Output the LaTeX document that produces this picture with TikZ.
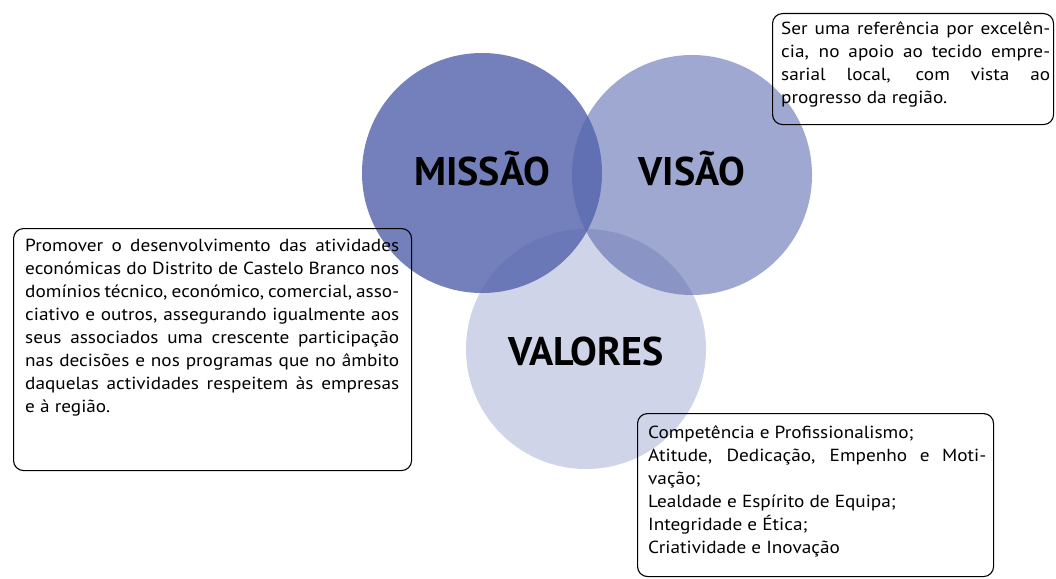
\documentclass[tikz,border=0pt]{standalone}
\usepackage{fontspec}
\setmainfont{PT Sans}
\newfontfamily\boxfont[FakeStretch=1.1]{PT Sans}
\definecolor{circbase}{RGB}{84,100,172}
\tolerance=10000
\hyphenpenalty=10000
\tikzset{
  circ/.style={fill=circbase, draw=none},
  lbl/.style={font=\fontsize{40}{42}\selectfont\bfseries, text=black, inner sep=0pt, anchor=base},
  boxframe/.style={draw=black, line width=1.1pt, rounded corners=10pt, anchor=north west, inner sep=0pt},
  txt/.style={anchor=north west, inner sep=0pt, align=justify, text=black,
    font=\boxfont\fontsize{17.5}{23}\selectfont}
}
\begin{document}
\begin{tikzpicture}[x=1pt,y=-1pt]
\useasboundingbox (0,0) rectangle (1056,578);
% circles
\fill[circ, opacity=0.82] (482,173) circle[radius=120pt];
\fill[circ, opacity=0.56] (692,175) circle[radius=120pt];
\fill[circ, opacity=0.28] (586,349) circle[radius=120pt];
% labels
\node[lbl] (missao) at (482,185) {MISSÃO};
\node[lbl] (visao) at (692,185) {VISÃO};
\node[lbl] (valores) at (586,365) {VALORES};
% box visao
\node[boxframe, minimum width=281pt, minimum height=111pt] (vbox) at (772,13) {};
\node[txt, text width=269pt] (vtext) at (781,21)
  {Ser uma referência por excelên-\linebreak cia, no apoio ao tecido empre-\linebreak sarial local, com vista ao\linebreak progresso da região.};
% box missao
\node[boxframe, minimum width=398pt, minimum height=242pt] (mbox) at (13,228) {};
\node[txt, text width=374pt] (mtext) at (25,239)
  {Promover o desenvolvimento das atividades\linebreak económicas do Distrito de Castelo Branco nos\linebreak domínios técnico, económico, comercial, asso-\linebreak ciativo e outros, assegurando igualmente aos\linebreak seus associados uma crescente participação\linebreak nas decisões e nos programas que no âmbito\linebreak daquelas actividades respeitem às empresas\linebreak e à região.};
% box valores
\node[boxframe, minimum width=356pt, minimum height=163pt] (lbox) at (637,413) {};
\node[txt, text width=338pt] (ltext) at (648,425)
  {Competência e Profissionalismo;\par Atitude, Dedicação, Empenho e Moti-\linebreak vação;\par Lealdade e Espírito de Equipa;\par Integridade e Ética;\par Criatividade e Inovação};
\end{tikzpicture}
\end{document}
